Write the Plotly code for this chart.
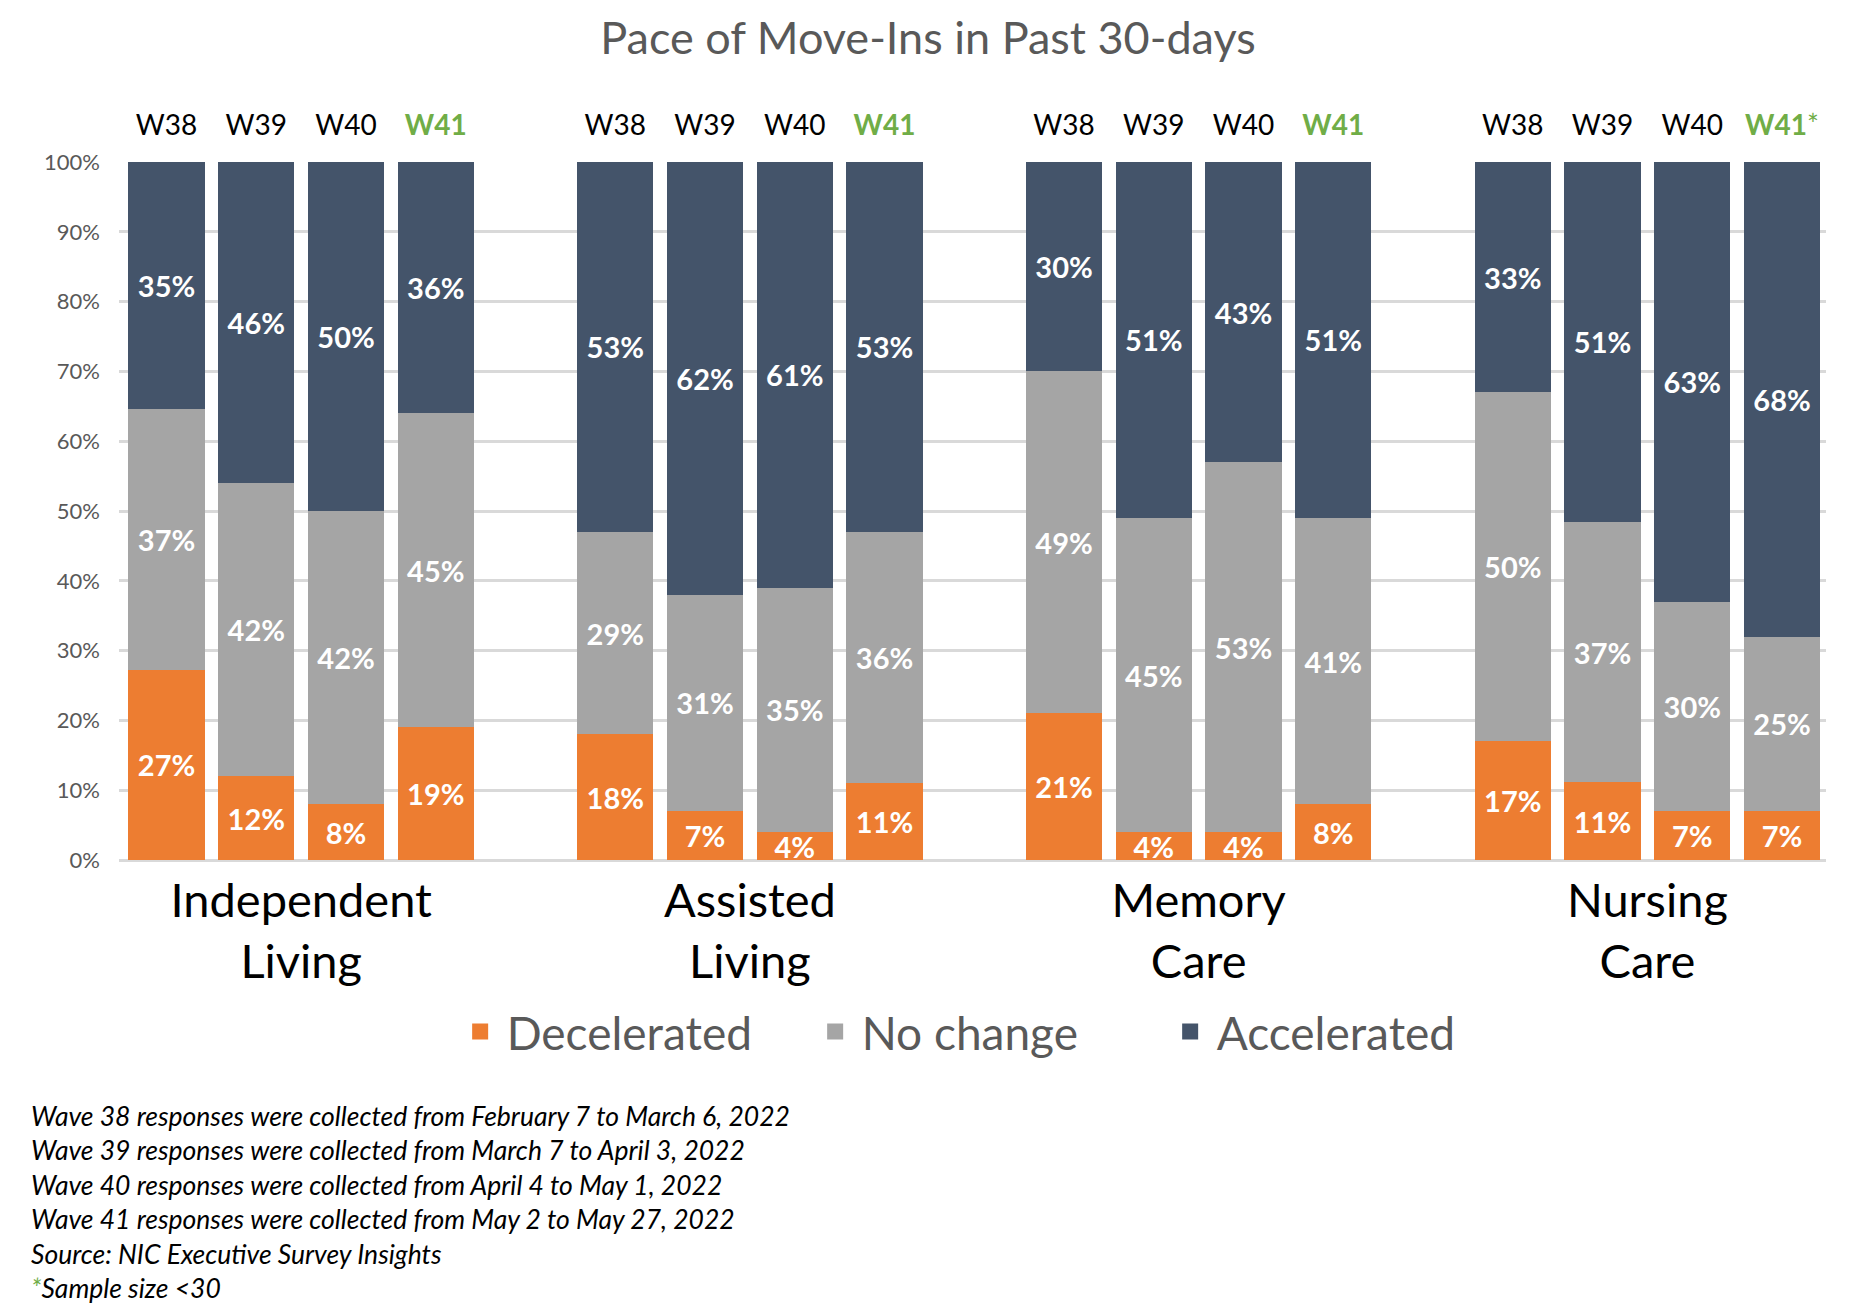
import plotly.graph_objects as go

categories = ["Independent<br>Living", "Assisted<br>Living", "Memory<br>Care", "Nursing<br>Care"]
waves = ["W38", "W39", "W40", "W41"]

# one value per bar, four waves per care segment
decelerated = [27, 12, 8, 19, 18, 7, 4, 11, 21, 4, 4, 8, 17, 11, 7, 7]
no_change = [37, 42, 42, 45, 29, 31, 35, 36, 49, 45, 53, 41, 50, 37, 30, 25]
accelerated = [35, 46, 50, 36, 53, 62, 61, 53, 30, 51, 43, 51, 33, 51, 63, 68]

series_names = ["Decelerated", "No change", "Accelerated"]
series_colors = ["#ED7D31", "#A5A5A5", "#44546A"]

footnotes = [
    "Wave 38 responses were collected from February 7 to March 6, 2022",
    "Wave 39 responses were collected from March 7 to April 3, 2022",
    "Wave 40 responses were collected from April 4 to May 1, 2022",
    "Wave 41 responses were collected from May 2 to May 27, 2022",
    "Source: NIC Executive Survey Insights",
]
small_sample_note = "Sample size &lt;30"

GREEN = "#70AD47"
FONT = "Lato"

# bar slots: four waves, then an empty slot between segments
slot = len(waves) + 1
xs = [g * slot + i for g in range(len(categories)) for i in range(len(waves))]
group_centers = [g * slot + (len(waves) - 1) / 2 for g in range(len(categories))]

wave_ticks = []
for g in range(len(categories)):
    for i, w in enumerate(waves):
        if i == len(waves) - 1:
            star = "*" if g == len(categories) - 1 else ""
            wave_ticks.append(f"<span style='color:{GREEN}'><b>{w}</b>{star}</span>")
        else:
            wave_ticks.append(w)

fig = go.Figure()
for name, vals, color in zip(series_names, [decelerated, no_change, accelerated], series_colors):
    fig.add_trace(go.Bar(
        x=xs, y=vals, name=name, showlegend=False,
        marker=dict(color=color, line=dict(width=0)),
        text=[f"{v}%" for v in vals],
        textposition="inside", insidetextanchor="middle",
        textangle=0, constraintext="none",
        textfont=dict(family=FONT, size=29, color="white", weight="bold"),
        hoverinfo="skip",
    ))

# legend entries (square swatches), also hosts the top wave axis
for name, color in zip(series_names, series_colors):
    fig.add_trace(go.Scatter(
        x=[None], y=[None], name=name, mode="markers",
        marker=dict(symbol="square", size=16, color=color),
        xaxis="x2", hoverinfo="skip",
    ))

x_range = [-0.53, xs[-1] + 0.49]

fig.update_layout(
    width=1856, height=1312,
    margin=dict(l=119, r=30, t=162, b=452),
    barmode="stack", barnorm="percent", bargap=0.15,
    plot_bgcolor="white", paper_bgcolor="white",
    font=dict(family=FONT, color="#595959"),
    title=dict(
        text="Pace of Move-Ins in Past 30-days",
        x=0.5, xref="container", xanchor="center",
        y=1 - 38 / 1312, yref="container", yanchor="middle",
        font=dict(family=FONT, size=45, color="#595959"),
    ),
    xaxis=dict(
        range=x_range, tickvals=group_centers, ticktext=categories,
        tickfont=dict(family=FONT, size=47, color="black"),
        showgrid=False, zeroline=False, ticks="", ticklabelstandoff=9,
    ),
    xaxis2=dict(
        range=x_range, overlaying="x", side="top", anchor="y",
        tickvals=xs, ticktext=wave_ticks,
        tickfont=dict(family=FONT, size=28, color="black"),
        showgrid=False, zeroline=False, ticks="", ticklabelstandoff=20,
    ),
    yaxis=dict(
        range=[0, 100], dtick=10, ticksuffix="%",
        tickfont=dict(family=FONT, size=22, color="#595959"),
        gridcolor="#D9D9D9", gridwidth=2.5,
        zeroline=True, zerolinecolor="#D9D9D9", zerolinewidth=2.5,
        ticks="", ticklabelstandoff=18,
    ),
    legend=dict(
        orientation="h", x=0.508, xanchor="center", y=-0.246, yanchor="middle",
        font=dict(family=FONT, size=46, color="#595959"),
        traceorder="normal", itemwidth=43,
        entrywidth=297, entrywidthmode="pixels",
    ),
    showlegend=True,
)

note_text = "<br>".join(footnotes) + f"<br><span style='color:{GREEN}'>*</span>{small_sample_note}"
fig.add_annotation(
    text=f"<i>{note_text}</i>",
    xref="paper", yref="paper", x=-0.0527, y=-0.341,
    xanchor="left", yanchor="top", align="left", showarrow=False,
    font=dict(family=FONT, size=26.5, color="black"),
)

fig.write_html("out.html", config={"displayModeBar": False},
               post_script="document.body.style.margin = '0';")
